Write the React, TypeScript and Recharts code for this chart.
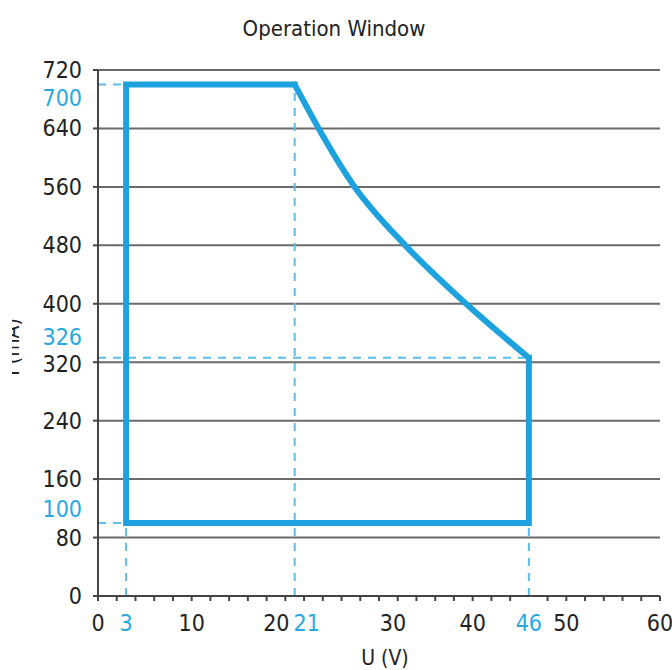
import React from 'react';
import { LineChart, Line, XAxis, YAxis, CartesianGrid, ReferenceLine } from 'recharts';

const chartTitle = 'Operation Window';
const xAxisTitle = 'U (V)';
const yAxisTitle = 'I (mA)';

// Operating window: straight edges (U in V, I in mA)
const edgeU = [46, 46, 3, 3, 21];
const edgeI = [326, 100, 100, 700, 700];

// Operating window: limiting curve from the knee at 21 V down to 46 V
const curveU = [21, 27.4, 32.8, 39.3, 46];
const curveI = [700, 560, 480, 400, 326];

// Axis ticks
const gridI = [0, 80, 160, 240, 320, 400, 480, 560, 640, 720];
const markedI = [100, 326, 700];
const minorU = [0, 2, 4, 6, 8, 10, 12, 14, 16, 18, 20, 22, 24, 26, 28, 30, 32, 34, 36, 38, 40, 42, 44, 46, 48, 50, 52, 54, 56, 58, 60];
const labeledU = [0, 10, 20, 30, 40, 50, 60];
const markedU = [3, 21, 46];

// Dashed guide lines (to the marked corners)
const guideVertU = [3, 21, 46];
const guideVertI = [100, 700, 100];
const guideHorzI = [700, 326, 100];
const guideHorzU = [3, 46, 3];

const edgeData = edgeU.map((u, k) => ({ u, i: edgeI[k] }));
const curveData = curveU.map((u, k) => ({ u, i: curveI[k] }));
const yTicks = [...gridI, ...markedI].sort((a, b) => a - b);
const xTicks = Array.from(new Set([...minorU, ...markedU])).sort((a, b) => a - b);

const FONT = "'DejaVu Sans Condensed', 'Liberation Sans Narrow', 'Arial Narrow', sans-serif";
const BLUE = '#1ea2de';
const BLUE_DASH = '#5bbde9';
const BLUE_TXT = '#2aa8e2';
const TXT = '#222222';
const AXIS = '#444444';
const GRID = '#6a6a6a';
const FS = 23;

// label nudges (text only) so neighbouring labels do not collide, as in the reference
const yLabelShift: Record<number, number> = { 700: 13, 326: -21, 320: 2, 100: -14 };
const xLabelShift: Record<number, number> = { 20: -9, 21: 12, 30: 14 };

const YTick = (props: any) => {
  const { x, y, payload } = props;
  const v = payload.value as number;
  const marked = markedI.includes(v);
  return (
    <g>
      {!marked && <line x1={x - 5} y1={y} x2={x} y2={y} stroke={AXIS} strokeWidth={2} />}
      <text
        x={x - 16}
        y={y + (yLabelShift[v] ?? 0)}
        dy={8}
        textAnchor="end"
        fill={marked ? BLUE_TXT : TXT}
        fontSize={FS}
        fontFamily={FONT}
      >
        {v}
      </text>
    </g>
  );
};

const XTick = (props: any) => {
  const { x, y, payload } = props;
  const v = payload.value as number;
  const marked = markedU.includes(v);
  const labeled = marked || labeledU.includes(v);
  return (
    <g>
      {!marked && <line x1={x} y1={y} x2={x} y2={y + 5} stroke={AXIS} strokeWidth={2} />}
      {labeled && (
        <text
          x={x + (xLabelShift[v] ?? 0)}
          y={y + 35}
          textAnchor="middle"
          fill={marked ? BLUE_TXT : TXT}
          fontSize={FS}
          fontFamily={FONT}
        >
          {v}
        </text>
      )}
    </g>
  );
};

export default function App() {
  return (
    <div style={{ position: 'absolute', left: 0, top: 0, width: 672, height: 670, background: '#fff' }}>
      <LineChart width={672} height={670} margin={{ top: 70, right: 12, bottom: 0, left: 0 }}>
        <defs>
          <clipPath id="ylabClip">
            <rect x={12} y={0} width={40} height={670} />
          </clipPath>
        </defs>
        <text x={334} y={36} textAnchor="middle" fontSize={22} fontFamily={FONT} fill={TXT}>
          {chartTitle}
        </text>
        <text x={385} y={665} textAnchor="middle" fontSize={21} fontFamily={FONT} fill={TXT}>
          {xAxisTitle}
        </text>
        <g clipPath="url(#ylabClip)">
          <text
            transform="translate(19,347) rotate(-90)"
            textAnchor="middle"
            fontSize={21}
            fontFamily={FONT}
            fill={TXT}
          >
            {yAxisTitle}
          </text>
        </g>
        <CartesianGrid vertical={false} horizontalValues={gridI} stroke={GRID} strokeWidth={2} />
        <XAxis
          dataKey="u"
          type="number"
          domain={[0, 60]}
          ticks={xTicks}
          interval={0}
          tick={<XTick />}
          tickLine={false}
          tickSize={0}
          tickMargin={0}
          height={74}
          axisLine={{ stroke: AXIS, strokeWidth: 2 }}
          allowDataOverflow
        />
        <YAxis
          type="number"
          domain={[0, 720]}
          ticks={yTicks}
          interval={0}
          tick={<YTick />}
          tickLine={false}
          tickSize={0}
          tickMargin={0}
          width={98}
          axisLine={{ stroke: AXIS, strokeWidth: 2 }}
          allowDataOverflow
        />
        {guideVertU.map((u, k) => (
          <ReferenceLine
            key={'v' + k}
            segment={[{ x: u, y: 0 }, { x: u, y: guideVertI[k] }]}
            stroke={BLUE_DASH}
            strokeWidth={2}
            strokeDasharray="8 7"
            ifOverflow="visible"
          />
        ))}
        {guideHorzI.map((i, k) => (
          <ReferenceLine
            key={'h' + k}
            segment={[{ x: 0, y: i }, { x: guideHorzU[k], y: i }]}
            stroke={BLUE_DASH}
            strokeWidth={2}
            strokeDasharray="8 7"
            ifOverflow="visible"
          />
        ))}
        <Line
          data={edgeData}
          dataKey="i"
          type="linear"
          stroke={BLUE}
          strokeWidth={6}
          strokeLinejoin="miter"
          strokeLinecap="square"
          dot={false}
          activeDot={false}
          isAnimationActive={false}
        />
        <Line
          data={curveData}
          dataKey="i"
          type="monotoneX"
          stroke={BLUE}
          strokeWidth={6}
          strokeLinejoin="round"
          strokeLinecap="round"
          dot={false}
          activeDot={false}
          isAnimationActive={false}
        />
      </LineChart>
    </div>
  );
}
